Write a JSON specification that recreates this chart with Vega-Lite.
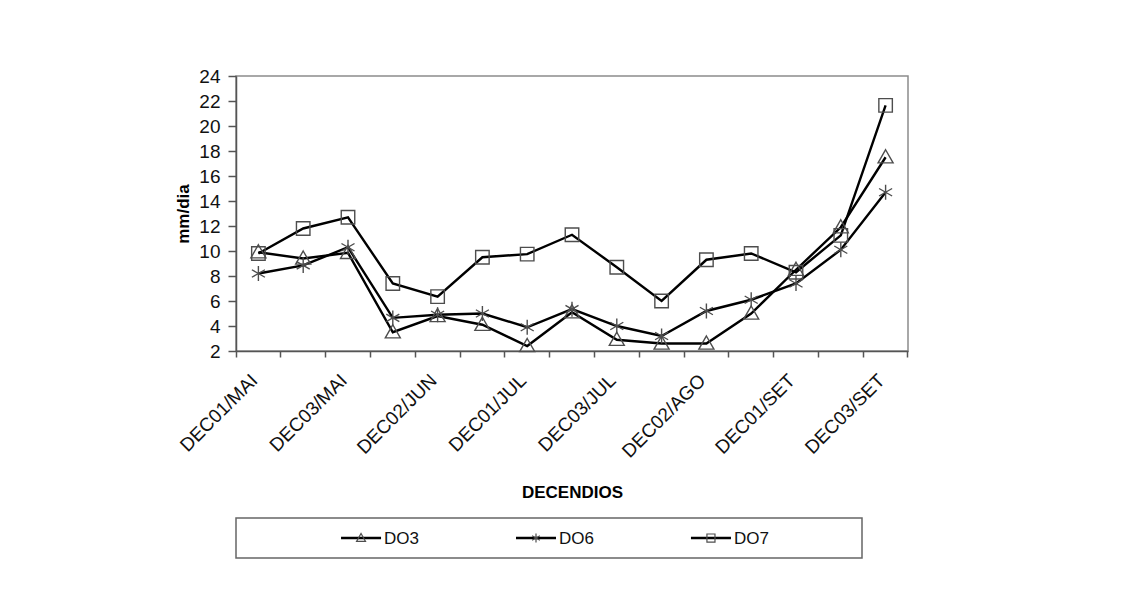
{
  "$schema": "https://vega.github.io/schema/vega-lite/v6.json",
  "padding": {"left": 174, "top": 66, "right": 5, "bottom": 5},
  "background": "white",
  "bounds": "flush",
  "spacing": 167,
  "config": {
    "font": "Liberation Sans",
    "view": {"stroke": "#8c8c8c", "strokeWidth": 1.5}
  },
  "datasets": {
    "evapotranspiracao": [
      {"decendio": "DEC01/MAI", "serie": "DO3", "valor": 9.9},
      {"decendio": "DEC02/MAI", "serie": "DO3", "valor": 9.4},
      {"decendio": "DEC03/MAI", "serie": "DO3", "valor": 9.85},
      {"decendio": "DEC01/JUN", "serie": "DO3", "valor": 3.5},
      {"decendio": "DEC02/JUN", "serie": "DO3", "valor": 4.8},
      {"decendio": "DEC03/JUN", "serie": "DO3", "valor": 4.1},
      {"decendio": "DEC01/JUL", "serie": "DO3", "valor": 2.4},
      {"decendio": "DEC02/JUL", "serie": "DO3", "valor": 5.1},
      {"decendio": "DEC03/JUL", "serie": "DO3", "valor": 2.9},
      {"decendio": "DEC01/AGO", "serie": "DO3", "valor": 2.6},
      {"decendio": "DEC02/AGO", "serie": "DO3", "valor": 2.6},
      {"decendio": "DEC03/AGO", "serie": "DO3", "valor": 5.0},
      {"decendio": "DEC01/SET", "serie": "DO3", "valor": 8.5},
      {"decendio": "DEC02/SET", "serie": "DO3", "valor": 11.9},
      {"decendio": "DEC03/SET", "serie": "DO3", "valor": 17.5},
      {"decendio": "DEC01/MAI", "serie": "DO6", "valor": 8.2},
      {"decendio": "DEC02/MAI", "serie": "DO6", "valor": 8.85},
      {"decendio": "DEC03/MAI", "serie": "DO6", "valor": 10.3},
      {"decendio": "DEC01/JUN", "serie": "DO6", "valor": 4.65},
      {"decendio": "DEC02/JUN", "serie": "DO6", "valor": 4.9},
      {"decendio": "DEC03/JUN", "serie": "DO6", "valor": 5.0},
      {"decendio": "DEC01/JUL", "serie": "DO6", "valor": 3.9},
      {"decendio": "DEC02/JUL", "serie": "DO6", "valor": 5.35},
      {"decendio": "DEC03/JUL", "serie": "DO6", "valor": 4.0},
      {"decendio": "DEC01/AGO", "serie": "DO6", "valor": 3.2},
      {"decendio": "DEC02/AGO", "serie": "DO6", "valor": 5.2},
      {"decendio": "DEC03/AGO", "serie": "DO6", "valor": 6.1},
      {"decendio": "DEC01/SET", "serie": "DO6", "valor": 7.4},
      {"decendio": "DEC02/SET", "serie": "DO6", "valor": 10.1},
      {"decendio": "DEC03/SET", "serie": "DO6", "valor": 14.7},
      {"decendio": "DEC01/MAI", "serie": "DO7", "valor": 9.8},
      {"decendio": "DEC02/MAI", "serie": "DO7", "valor": 11.8},
      {"decendio": "DEC03/MAI", "serie": "DO7", "valor": 12.7},
      {"decendio": "DEC01/JUN", "serie": "DO7", "valor": 7.4},
      {"decendio": "DEC02/JUN", "serie": "DO7", "valor": 6.35},
      {"decendio": "DEC03/JUN", "serie": "DO7", "valor": 9.5},
      {"decendio": "DEC01/JUL", "serie": "DO7", "valor": 9.75},
      {"decendio": "DEC02/JUL", "serie": "DO7", "valor": 11.3},
      {"decendio": "DEC03/JUL", "serie": "DO7", "valor": 8.7},
      {"decendio": "DEC01/AGO", "serie": "DO7", "valor": 6.0},
      {"decendio": "DEC02/AGO", "serie": "DO7", "valor": 9.3},
      {"decendio": "DEC03/AGO", "serie": "DO7", "valor": 9.8},
      {"decendio": "DEC01/SET", "serie": "DO7", "valor": 8.3},
      {"decendio": "DEC02/SET", "serie": "DO7", "valor": 11.25},
      {"decendio": "DEC03/SET", "serie": "DO7", "valor": 21.65}
    ],
    "series": [
      {"serie": "DO3"},
      {"serie": "DO6"},
      {"serie": "DO7"}
    ]
  },
  "vconcat": [
    {
      "width": 672,
      "height": 275,
      "data": {"name": "evapotranspiracao"},
      "encoding": {
        "x": {
          "field": "decendio",
          "type": "nominal",
          "sort": null,
          "bandPosition": 0.5,
          "scale": {"type": "band", "paddingInner": 0, "paddingOuter": 0},
          "title": "DECENDIOS",
          "axis": {
            "bandPosition": 1,
            "tickExtra": true,
            "domainColor": "#555555",
            "domainWidth": 1.5,
            "tickColor": "#555555",
            "tickWidth": 1.5,
            "tickSize": 6,
            "labelAngle": -45,
            "labelAlign": "right",
            "labelBaseline": "middle",
            "labelOffset": -4,
            "labelPadding": 20,
            "labelFontSize": 19,
            "labelColor": "#111111",
            "labelExpr": "indexof(['DEC01/MAI','DEC03/MAI','DEC02/JUN','DEC01/JUL','DEC03/JUL','DEC02/AGO','DEC01/SET','DEC03/SET'], datum.value) >= 0 ? datum.label : ''",
            "titleFontSize": 17,
            "titleFontWeight": "bold",
            "titleColor": "#000000",
            "titlePadding": 24
          }
        },
        "y": {
          "field": "valor",
          "type": "quantitative",
          "scale": {"domain": [2, 24], "nice": false, "zero": false},
          "title": "mm/dia",
          "axis": {
            "values": [2, 4, 6, 8, 10, 12, 14, 16, 18, 20, 22, 24],
            "grid": false,
            "domainColor": "#555555",
            "domainWidth": 1.5,
            "tickColor": "#555555",
            "tickWidth": 1.5,
            "tickSize": 8,
            "labelPadding": 8,
            "labelFontSize": 19,
            "labelColor": "#111111",
            "titleFontSize": 17,
            "titleFontWeight": "bold",
            "titleColor": "#000000",
            "titlePadding": 6
          }
        }
      },
      "layer": [
        {
          "mark": {"type": "line", "color": "#000000", "strokeWidth": 2.4},
          "encoding": {"detail": {"field": "serie"}}
        },
        {
          "mark": {"type": "point", "filled": false, "size": 225, "stroke": "#4d4d4d", "strokeWidth": 1.4, "opacity": 1},
          "encoding": {
            "shape": {
              "field": "serie",
              "scale": {
                "domain": ["DO3", "DO6", "DO7"],
                "range": [
                  "M0,-1L1,0.75L-1,0.75Z",
                  "M0,-1V1M-0.87,-0.5L0.87,0.5M-0.87,0.5L0.87,-0.5",
                  "M-0.9,-0.9H0.9V0.9H-0.9Z"
                ]
              },
              "legend": null
            }
          }
        }
      ]
    },
    {
      "width": 626,
      "height": 40,
      "view": {"stroke": "#666666", "strokeWidth": 1.5},
      "data": {"name": "series"},
      "encoding": {
        "x": {
          "field": "serie",
          "type": "nominal",
          "sort": null,
          "scale": {"type": "point", "padding": 0.789},
          "axis": null
        }
      },
      "layer": [
        {
          "mark": {"type": "point", "shape": "M-1,0H1", "size": 1600, "filled": false, "stroke": "#000000", "strokeWidth": 2.4, "opacity": 1, "xOffset": -13}
        },
        {
          "mark": {"type": "point", "filled": false, "size": 80, "stroke": "#4d4d4d", "strokeWidth": 1.2, "opacity": 1, "xOffset": -13},
          "encoding": {
            "shape": {
              "field": "serie",
              "scale": {
                "domain": ["DO3", "DO6", "DO7"],
                "range": [
                  "M0,-1L1,0.75L-1,0.75Z",
                  "M0,-1V1M-0.87,-0.5L0.87,0.5M-0.87,0.5L0.87,-0.5",
                  "M-0.9,-0.9H0.9V0.9H-0.9Z"
                ]
              },
              "legend": null
            }
          }
        },
        {
          "mark": {"type": "text", "align": "left", "baseline": "middle", "fontSize": 17, "color": "#111111", "xOffset": 10, "dy": 1},
          "encoding": {"text": {"field": "serie"}}
        }
      ]
    }
  ]
}
